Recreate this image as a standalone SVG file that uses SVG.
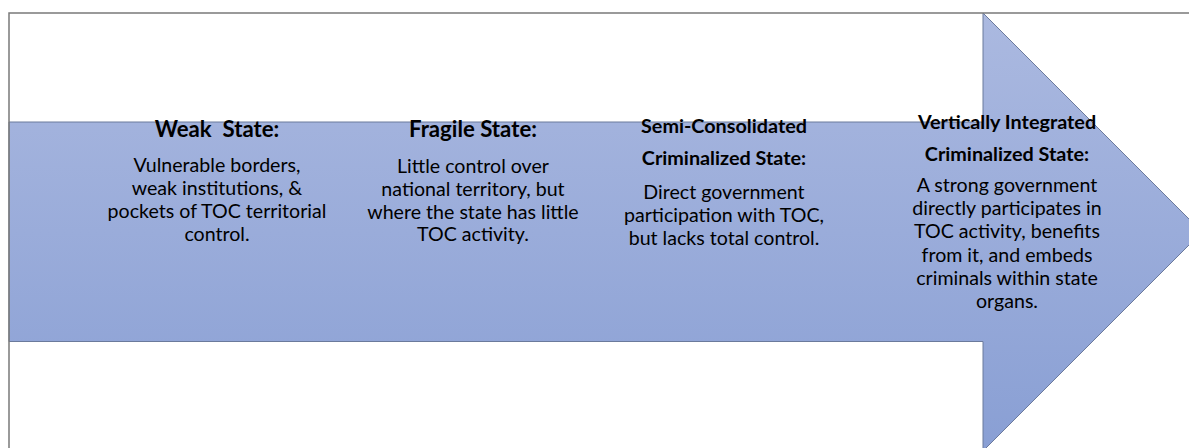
<svg xmlns="http://www.w3.org/2000/svg" width="1189" height="448" viewBox="0 0 1189 448">
  <style>
    .t { font-family: Lato, "Open Sans", "Liberation Sans", sans-serif; font-size: 19.8px; font-weight: bold; fill: #000; text-anchor: middle; }
    .tl { font-size: 22.2px; }
    .b { font-family: Lato, "Open Sans", "Liberation Sans", sans-serif; font-size: 19.6px; fill: #000; text-anchor: middle; }
    .frame { fill: none; stroke: #7a7a7a; stroke-width: 1.5; }
  </style>
  <defs>
    <linearGradient id="arrowFill" x1="0" y1="0" x2="0" y2="1">
      <stop offset="0" stop-color="#abb9e0"/>
      <stop offset="1" stop-color="#899fd4"/>
    </linearGradient>
  </defs>
  <rect width="1189" height="448" fill="#ffffff"/>
  <g id="arrow">
    <path d="M9,122 H983 V13 L1202,232 L983,451 V341.5 H9 Z" fill="url(#arrowFill)" stroke="#6b7a9c" stroke-width="1"/>
  </g>
  <rect class="frame" x="9" y="13" width="1200" height="460"/>
  <g id="weak-state">
    <text class="t tl" x="217" y="137" xml:space="preserve">Weak  State:</text>
    <text class="b" x="217" y="172">Vulnerable borders,</text>
    <text class="b" x="217" y="195">weak institutions, &amp;</text>
    <text class="b" x="217" y="218">pockets of TOC territorial</text>
    <text class="b" x="217" y="241">control.</text>
  </g>
  <g id="fragile-state">
    <text class="t tl" x="473" y="137">Fragile State:</text>
    <text class="b" x="473" y="173">Little control over</text>
    <text class="b" x="473" y="196">national territory, but</text>
    <text class="b" x="473" y="219">where the state has little</text>
    <text class="b" x="473" y="241">TOC activity.</text>
  </g>
  <g id="semi-consolidated">
    <text class="t" x="724" y="133">Semi-Consolidated</text>
    <text class="t" x="724" y="164.5">Criminalized State:</text>
    <text class="b" x="724" y="198.5">Direct government</text>
    <text class="b" x="724" y="221.7">participation with TOC,</text>
    <text class="b" x="724" y="245">but lacks total control.</text>
  </g>
  <g id="vertically-integrated">
    <text class="t" x="1007" y="129">Vertically Integrated</text>
    <text class="t" x="1007" y="160.5">Criminalized State:</text>
    <text class="b" x="1007" y="191.7">A strong government</text>
    <text class="b" x="1007" y="215">directly participates in</text>
    <text class="b" x="1007" y="238.3">TOC activity, benefits</text>
    <text class="b" x="1007" y="261.7">from it, and embeds</text>
    <text class="b" x="1007" y="285">criminals within state</text>
    <text class="b" x="1007" y="308.3">organs.</text>
  </g>
</svg>
